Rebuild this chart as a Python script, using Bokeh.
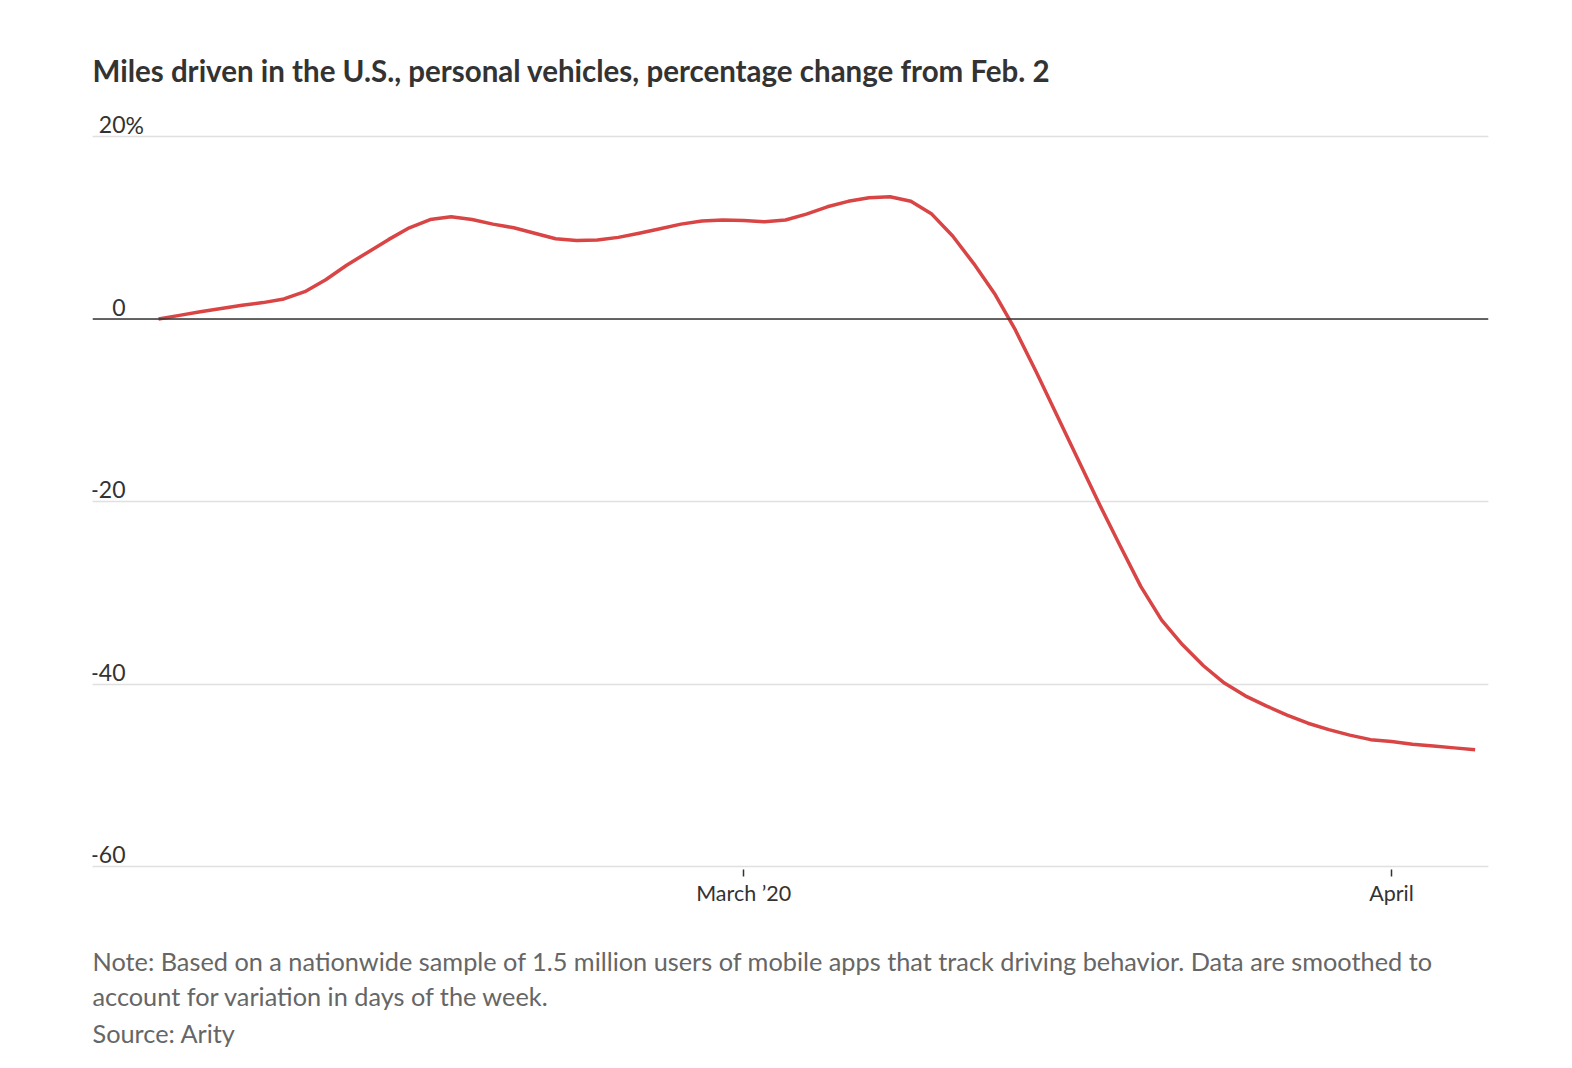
import pandas as pd
from bokeh.plotting import figure
from bokeh.models import Range1d, FixedTicker, Span, Title, Grid, ColumnDataSource
from bokeh.core.properties import value
from bokeh.embed import file_html
from bokeh.resources import INLINE

# ---------------- data ----------------
dates = list(pd.date_range("2020-02-02", "2020-04-05", freq="D").strftime("%Y-%m-%d"))
pct_feb = [0.0, 0.4, 0.8, 1.15, 1.5, 1.8, 2.2, 3.0, 4.3, 5.9, 7.3, 8.7, 10.0, 10.9,
           11.2, 10.9, 10.4, 10.0, 9.4, 8.8, 8.6, 8.65, 8.95, 9.4, 9.9, 10.4, 10.75, 10.85]
pct_mar = [10.8, 10.65, 10.85, 11.5, 12.3, 12.9, 13.3, 13.4, 12.9, 11.5, 9.1, 6.1, 2.8,
           -1.2, -5.8, -10.6, -15.4, -20.2, -24.8, -29.3, -33.0, -35.7, -38.0, -39.9,
           -41.3, -42.4, -43.4, -44.3, -45.0, -45.6, -46.1]
pct_apr = [-46.3, -46.6, -46.8, -47.0, -47.2]
pct = pct_feb + pct_mar + pct_apr

y_ticks = [20, 0, -20, -40, -60]
y_tick_labels = ["20", "0", "-20", "-40", "-60"]
x_tick_dates = ["2020-03-01", "2020-04-01"]
x_tick_labels = ["March \u201920", "April"]

title_text = "Miles driven in the U.S., personal vehicles, percentage change from Feb. 2"
note_lines = [
    "Note: Based on a nationwide sample of 1.5 million users of mobile apps that track driving behavior. Data are smoothed to",
    "account for variation in days of the week.",
    "Source: Arity",
]

# ---------------- build ----------------
base = pd.Timestamp(dates[0])
days = [(pd.Timestamp(d) - base).days for d in dates]
tick_days = [(pd.Timestamp(d) - base).days for d in x_tick_dates]

FONT = "Lato"
X0, X1 = -3.16, 63.64

p = figure(width=1556, height=1052, output_backend="svg", toolbar_location=None,
           x_range=Range1d(X0, X1), y_range=Range1d(-60.33, 23.95),
           y_axis_location=None,
           min_border_left=92, min_border_right=68, min_border_top=100, min_border_bottom=183)
p.outline_line_color = None
p.background_fill_color = "white"
p.border_fill_color = "white"

# title
p.title.text = title_text
p.title.text_font = FONT
p.title.text_font_size = "29.5px"
p.title.text_font_style = "bold"
p.title.text_color = "#333333"
p.title.align = "left"
p.title.standoff = 25

# x axis
p.xgrid.visible = False
xa = p.xaxis[0]
xa.ticker = FixedTicker(ticks=tick_days)
xa.major_label_overrides = {d: lab for d, lab in zip(tick_days, x_tick_labels)}
xa.axis_line_color = None
xa.minor_tick_line_color = None
xa.major_tick_line_color = "#333333"
xa.major_tick_line_width = 1.5
xa.major_tick_in = 0
xa.major_tick_out = 7
xa.major_label_standoff = 3
xa.major_label_text_font = FONT
xa.major_label_text_font_size = "21.5px"
xa.major_label_text_color = "#333333"

# horizontal gridlines
grid = Grid(dimension=1, ticker=FixedTicker(ticks=[t for t in y_ticks if t != 0]),
            grid_line_color="#e0e0e0", grid_line_width=1.5)
p.add_layout(grid)

# zero line
p.add_layout(Span(location=0, dimension="width", line_color="#333333", line_width=1.5))

# data line
src = ColumnDataSource(dict(x=days, y=pct))
p.line("x", "y", source=src, line_color="#d94545", line_width=3.5, line_join="round")

# y tick labels inside the plot, just above each gridline
lab_src = ColumnDataSource(dict(x=[X0] * len(y_ticks), y=y_ticks, t=y_tick_labels))
p.text("x", "y", text="t", source=lab_src, text_align="right", text_baseline="middle",
       x_offset=33, y_offset=-12, text_font=value(FONT), text_font_size="23px",
       text_color="#333333")
pct_src = ColumnDataSource(dict(x=[X0], y=[y_ticks[0]], t=["%"]))
p.text("x", "y", text="t", source=pct_src, text_align="left", text_baseline="middle",
       x_offset=33, y_offset=-12, text_font=value(FONT), text_font_size="23px",
       text_color="#333333")

# notes below (spacer first)
p.add_layout(Title(text=" ", text_font_size="1px", standoff=30), "below")
note_standoffs = [4, 3, 6]
for line, so in zip(note_lines, note_standoffs):
    t = Title(text=line, align="left", text_font=FONT, text_font_size="25.3px",
              text_font_style="normal", text_color="#666666", standoff=so)
    p.add_layout(t, "below")

open("out.html", "w").write(file_html(p, INLINE))
